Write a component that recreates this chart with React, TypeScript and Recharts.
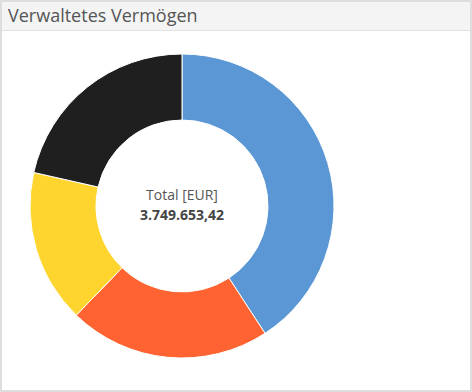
import React from 'react';
import { PieChart, Pie, Cell } from 'recharts';

const categories = ['Anlage A', 'Anlage B', 'Anlage C', 'Anlage D'];
const values = [1530000, 804000, 611000, 804653.42];
const colors = ['#5B97D4', '#FF6331', '#FDD52E', '#1F1F1F'];
const title = 'Verwaltetes Vermögen';
const centerLabel = 'Total [EUR]';

const data = categories.map((name, i) => ({ name, value: values[i] }));
const total = values.reduce((a, b) => a + b, 0);
const totalText = total.toLocaleString('de-DE', { minimumFractionDigits: 2, maximumFractionDigits: 2 });

export default function App() {
  return (
    <div style={{ position: 'fixed', left: 0, top: 0, width: 472, height: 392, boxSizing: 'border-box', border: '2px solid #dddddd', background: '#fff', fontFamily: 'Open Sans' }}>
      <div style={{ position: 'absolute', left: 0, top: 0, width: 468, height: 28, background: '#f4f4f4', borderBottom: '1px solid #e2e2e2', boxSizing: 'content-box' }}>
        <div style={{ position: 'absolute', left: 6, top: 1, fontSize: 18, color: '#555', lineHeight: '24px', whiteSpace: 'nowrap' }}>{title}</div>
      </div>
      <div style={{ position: 'absolute', left: -2, top: -2 }}>
        <PieChart width={472} height={392} margin={{ top: 0, right: 0, bottom: 0, left: 0 }}>
          <Pie
            data={data}
            dataKey="value"
            nameKey="name"
            cx={182}
            cy={206}
            innerRadius={86}
            outerRadius={152}
            startAngle={90}
            endAngle={-270}
            stroke="#ffffff"
            strokeWidth={1}
            isAnimationActive={false}
          >
            {data.map((d, i) => (
              <Cell key={d.name} fill={colors[i]} />
            ))}
          </Pie>
        </PieChart>
      </div>
      <div style={{ position: 'absolute', left: 80, top: 183, width: 200, textAlign: 'center', fontSize: 14, lineHeight: '20px', color: '#555' }}>
        {centerLabel}
      </div>
      <div style={{ position: 'absolute', left: 80, top: 203, width: 200, textAlign: 'center', fontSize: 14, lineHeight: '20px', fontWeight: 'bold', color: '#444' }}>
        {totalText}
      </div>
    </div>
  );
}
